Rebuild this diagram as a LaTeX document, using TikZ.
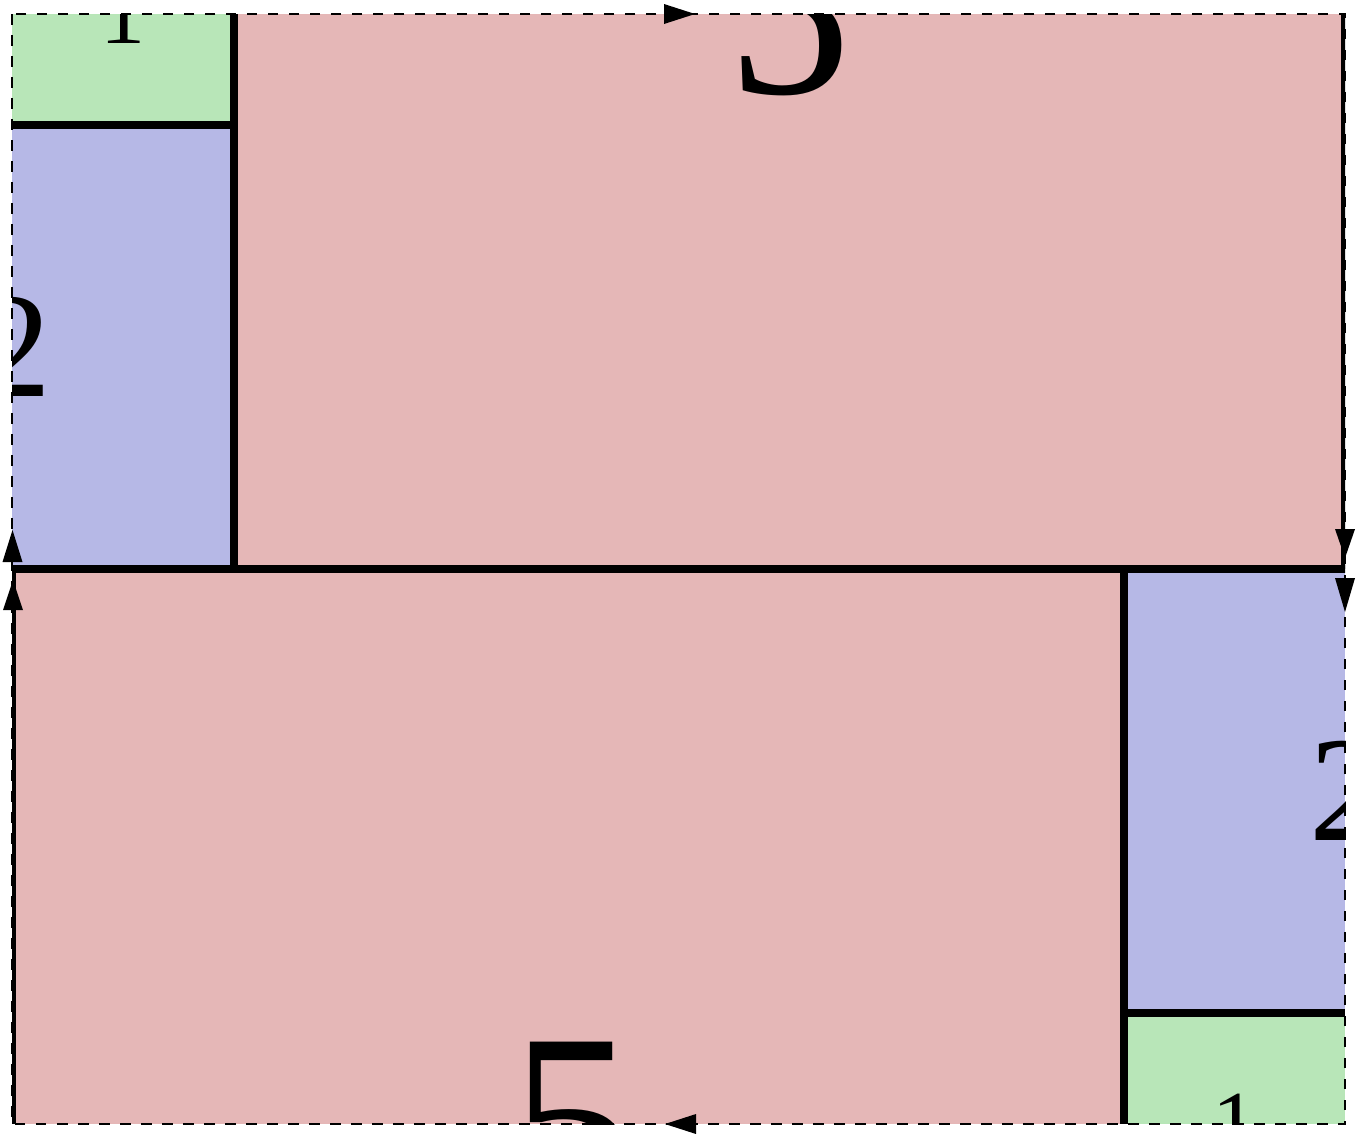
\documentclass[tikz,border=0pt]{standalone}
\usepackage{fontspec}
\setmainfont{Liberation Serif}
\newfontfamily\labfont{Liberation Serif}
\definecolor{cgreen}{RGB}{184,230,184}
\definecolor{cblue}{RGB}{182,184,230}
\definecolor{cpink}{RGB}{229,183,183}
\tikzset{
  edge/.style={line width=8pt, black},
  outline/.style={line width=2.3pt, black, dash pattern=on 10.5pt off 10.5pt},
  lab/.style={inner sep=0pt, text=black},
  head/.style={fill=black},
}
\begin{document}
\begin{tikzpicture}[x=1pt,y=-1pt]
\useasboundingbox (0,0) rectangle (1357,1133);
\coordinate (TL) at (12,14);
\coordinate (BR) at (1345,1124);
\begin{scope}
  \clip (TL) rectangle (BR);
  % top half
  \fill[cgreen] (12,14) rectangle (234,125);
  \fill[cblue] (12,125) rectangle (234,569);
  \fill[cpink] (234,14) rectangle (1345,569);
  % bottom half
  \fill[cpink] (12,569) rectangle (1124,1124);
  \fill[cblue] (1124,569) rectangle (1345,1013);
  \fill[cgreen] (1124,1013) rectangle (1345,1124);
  % solid edges
  \draw[edge] (234,14) -- (234,569);
  \draw[edge] (12,125) -- (234,125);
  \draw[edge] (8,569) -- (1349,569);
  \draw[edge] (1345,14) -- (1345,569);
  \draw[edge] (1124,569) -- (1124,1124);
  \draw[edge] (1124,1013) -- (1345,1013);
  \draw[edge] (12,569) -- (12,1124);
  % labels
  \node[lab, font=\labfont\fontsize{90}{90}\selectfont] (l1a) at (123,14) {1};
  \node[lab, font=\labfont\fontsize{150}{150}\selectfont] (l2a) at (14,347) {2};
  \node[lab, font=\labfont\fontsize{248}{248}\selectfont] (l5a) at (789.5,14) {5};
  \node[lab, font=\labfont\fontsize{248}{248}\selectfont] (l5b) at (572,1124) {5};
  \node[lab, font=\labfont\fontsize{150}{150}\selectfont] (l2b) at (1347,791) {2};
  \node[lab, font=\labfont\fontsize{90}{90}\selectfont] (l1b) at (1234.5,1124) {1};
\end{scope}
% dashed outline
\draw[outline] (TL) rectangle (BR);
% arrow heads
\fill[head] (695,14) -- (664,4) -- (664,24) -- cycle;
\fill[head] (665,1124) -- (696,1114) -- (696,1134) -- cycle;
\fill[head] (12.5,530) -- (2.5,562) -- (22.5,562) -- cycle;
\fill[head] (13,580) -- (3,610) -- (23,610) -- cycle;
\fill[head] (1345,558) -- (1335,529) -- (1355,529) -- cycle;
\fill[head] (1345,612) -- (1335,578) -- (1355,578) -- cycle;
\end{tikzpicture}
\end{document}
